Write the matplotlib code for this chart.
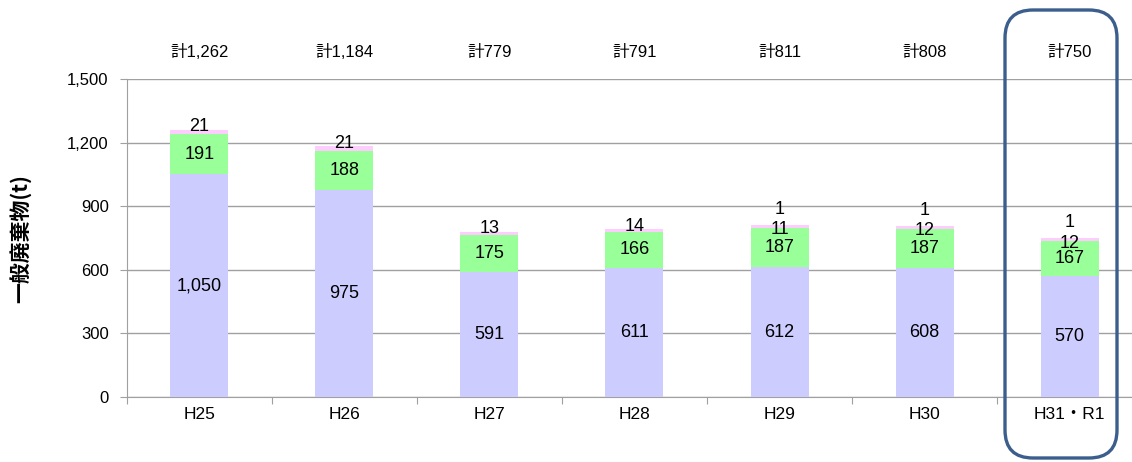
import matplotlib
matplotlib.use("Agg")
import matplotlib.pyplot as plt
from matplotlib.patches import FancyBboxPatch
import numpy as np

# Arial-like digits, CJK glyphs from Noto
plt.rcParams['font.family'] = ['Liberation Sans', 'Noto Sans CJK JP', 'DejaVu Sans']

## DATA
years = ["H25", "H26", "H27", "H28", "H29", "H30", "H31・R1"]
base = [1050, 975, 591, 611, 612, 608, 570]       # lavender
second = [191, 188, 175, 166, 187, 187, 167]      # green
third = [21, 21, 13, 14, 11, 12, 12]              # pink
fourth = [0, 0, 0, 0, 1, 1, 1]                    # peach
totals = [1262, 1184, 779, 791, 811, 808, 750]
yticks = [0, 300, 600, 900, 1200, 1500]

colors = ["#CCCCFF", "#99FF99", "#FFCCFF", "#FFCC99"]
grid_col = "#A0A0A0"

fig = plt.figure(figsize=(11.32, 4.62), dpi=100)
ax = fig.add_axes([0.112, 0.1407, 0.897, 0.688])

x = np.arange(len(years))
w = 0.4

bottom = np.zeros(len(years))
series = [base, second, third, fourth]
for vals, col in zip(series, colors):
    ax.bar(x, vals, w, bottom=bottom, color=col, zorder=3, linewidth=0)
    bottom += np.array(vals)

# segment labels
for i in range(len(years)):
    ax.text(x[i], base[i] / 2, f"{base[i]:,}", ha="center", va="center", fontsize=13, zorder=4)
    ax.text(x[i], base[i] + second[i] / 2, f"{second[i]:,}", ha="center", va="center", fontsize=13, zorder=4)
    shift = -2.5 if fourth[i] > 0 else 3.5
    ax.annotate(f"{third[i]:,}", (x[i], base[i] + second[i] + third[i] / 2), xytext=(0, shift),
                textcoords="offset points", ha="center", va="center", fontsize=13, zorder=4)
    if fourth[i] > 0:
        ax.annotate(f"{fourth[i]}", (x[i], totals[i]), xytext=(0, 11), textcoords="offset points",
                    ha="center", va="center", fontsize=13, zorder=4)
    # totals above the plot
    ax.text(x[i], 1627, f"計{totals[i]:,}", ha="center", va="center", fontsize=12, clip_on=False)

ax.set_xlim(-0.5, len(years) - 0.5)
ax.set_ylim(0, 1500)
ax.set_yticks(yticks)
ax.set_yticklabels([f"{v:,}" for v in yticks], fontsize=12)
ax.yaxis.grid(True, color=grid_col, linewidth=1, zorder=0)

# category labels, ticks at boundaries
ax.set_xticks(np.arange(-0.5, len(years)), minor=False)
ax.set_xticklabels([])
ax.set_xticks(x, minor=True)
ax.set_xticklabels(years, minor=True, fontsize=12.5)
ax.tick_params(axis="x", which="minor", length=0, pad=7)
ax.tick_params(axis="x", which="major", length=5, color=grid_col, direction="out")
ax.tick_params(axis="y", length=5, color=grid_col, direction="out", pad=8)

for s in ["top", "right"]:
    ax.spines[s].set_visible(False)
ax.spines["left"].set_color(grid_col)
ax.spines["bottom"].set_color(grid_col)

ax.set_ylabel("一般廃棄物(t)", fontsize=15, fontweight="bold",
              family=['Noto Sans CJK JP', 'DejaVu Sans'])
ax.yaxis.set_label_coords(-0.093, 0.5)

# highlight box round the last year
box = FancyBboxPatch((10.05, 0.04), 1.12, 4.48, boxstyle="round,pad=0,rounding_size=0.28",
                     transform=fig.dpi_scale_trans, fill=False, edgecolor="#3B5E8C",
                     linewidth=2.4, clip_on=False, zorder=5)
fig.patches.append(box)

fig.savefig("out.png", dpi=100)
